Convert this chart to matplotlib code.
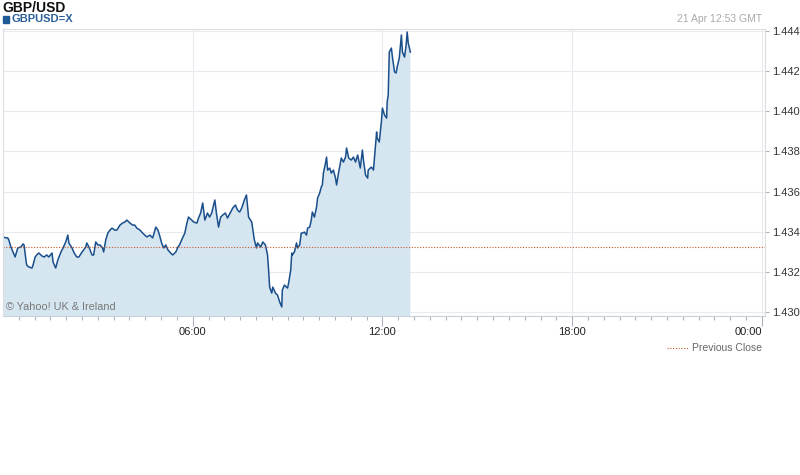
import numpy as np
import matplotlib.pyplot as plt
from matplotlib.lines import Line2D
from matplotlib.patches import Rectangle

plt.rcParams['font.family'] = ['Liberation Sans', 'DejaVu Sans']

# minutes since 00:00 GMT, 21 Apr
minutes = [0, 6, 9, 11, 15, 19, 23, 27, 28, 34, 38, 40, 44, 45, 49, 55, 57, 61, 64, 68,
           74, 78, 83, 87, 93, 95, 100, 104, 110, 114, 119, 123, 125, 131, 135, 140, 144, 150, 153, 157,
           159, 163, 169, 172, 176, 180, 184, 189, 191, 195, 199, 203, 207, 212, 216, 222, 227, 231, 235, 241,
           246, 250, 254, 260, 265, 273, 279, 284, 290, 294, 297, 301, 305, 309, 313, 318, 322, 328, 332, 335,
           339, 345, 349, 352, 358, 362, 368, 371, 375, 379, 383, 388, 392, 396, 402, 405, 409, 413, 417, 422,
           426, 432, 436, 441, 445, 449, 453, 458, 462, 466, 472, 477, 481, 483, 489, 493, 498, 502, 504, 506,
           510, 512, 517, 521, 525, 529, 530, 534, 540, 542, 546, 548, 549, 553, 557, 559, 563, 566, 568, 572,
           576, 578, 582, 585, 587, 591, 595, 597, 601, 604, 606, 608, 612, 614, 616, 620, 623, 627, 631, 633,
           637, 642, 646, 650, 652, 656, 661, 665, 669, 673, 678, 682, 684, 688, 692, 693, 699, 703, 705, 709,
           710, 714, 718, 720, 724, 728, 729, 731, 733, 737, 739, 743, 746, 748, 752, 756, 758, 762, 765, 767,
           769, 773]
price = [1.43374, 1.43369, 1.43369, 1.43359, 1.43324, 1.43299, 1.43274, 1.43309, 1.43319, 1.43324,
         1.43339, 1.43334, 1.43249, 1.43234, 1.43224, 1.43219, 1.43234, 1.43274, 1.43284, 1.43294,
         1.43279, 1.43274, 1.43284, 1.43274, 1.43294, 1.43249, 1.43219, 1.43259, 1.43299, 1.43319,
         1.43349, 1.43383, 1.43344, 1.43319, 1.43294, 1.43274, 1.43274, 1.43299, 1.43309, 1.43324,
         1.43344, 1.43324, 1.43284, 1.43284, 1.43349, 1.43334, 1.43334, 1.43319, 1.43299, 1.43359,
         1.43393, 1.43408, 1.43418, 1.43408, 1.43408, 1.43433, 1.43443, 1.43448, 1.43458, 1.43443,
         1.43433, 1.43433, 1.43418, 1.43408, 1.43393, 1.43374, 1.43383, 1.43369, 1.43423, 1.43408,
         1.43383, 1.43344, 1.43319, 1.43334, 1.43309, 1.43294, 1.43284, 1.43299, 1.43324, 1.43334,
         1.43359, 1.43393, 1.43443, 1.43473, 1.43458, 1.43448, 1.43443, 1.43468, 1.43493, 1.43543,
         1.43458, 1.43493, 1.43473, 1.43493, 1.43558, 1.43493, 1.43423, 1.43473, 1.43483, 1.43493,
         1.43468, 1.43498, 1.43518, 1.43533, 1.43508, 1.43498, 1.43518, 1.43558, 1.43583, 1.43473,
         1.43448, 1.43359, 1.43319, 1.43344, 1.43324, 1.43349, 1.43334, 1.43284, 1.43209, 1.43124,
         1.43094, 1.43124, 1.43094, 1.43084, 1.43050, 1.43025, 1.43109, 1.43134, 1.43119, 1.43144,
         1.43209, 1.43294, 1.43284, 1.43299, 1.43344, 1.43319, 1.43334, 1.43393, 1.43393, 1.43398,
         1.43383, 1.43418, 1.43423, 1.43458, 1.43498, 1.43473, 1.43523, 1.43568, 1.43593, 1.43623,
         1.43633, 1.43692, 1.43742, 1.43772, 1.43707, 1.43717, 1.43692, 1.43707, 1.43667, 1.43633,
         1.43697, 1.43767, 1.43747, 1.43772, 1.43817, 1.43767, 1.43757, 1.43772, 1.43747, 1.43782,
         1.43717, 1.43807, 1.43757, 1.43682, 1.43667, 1.43707, 1.43722, 1.43707, 1.43772, 1.43897,
         1.43867, 1.43847, 1.43947, 1.44016, 1.43981, 1.43966, 1.44046, 1.44081, 1.44295, 1.44315,
         1.44270, 1.44196, 1.44191, 1.44221, 1.44265, 1.44380, 1.44295, 1.44270, 1.44330, 1.44395,
         1.44340, 1.44295]
prev_close = 1.43325
y_ticks = [1.430, 1.432, 1.434, 1.436, 1.438, 1.440, 1.442, 1.444]
x_ticks = [360, 720, 1080, 1440]
x_labels = ['06:00', '12:00', '18:00', '00:00']

line_col = '#1a4f8b'
fill_col = '#d6e6f1'
grid_col = '#e8ebf0'

fig = plt.figure(figsize=(8, 4.75), dpi=100)
ax = fig.add_axes([3 / 800, (475 - 316) / 475, 762 / 800, 287 / 475])

ax.fill_between(minutes, price, 1.42, color=fill_col, lw=0)
ax.plot(minutes, price, color=line_col, lw=1.1)
ax.axhline(prev_close, color='#c8572a', lw=0.8, ls=(0, (1, 1.5)))

ax.set_xlim(0, 1446)
ax.set_ylim(1.42980, 1.44410)

ax.set_yticks(y_ticks)
ax.set_yticklabels(['%.3f' % v for v in y_ticks])
ax.yaxis.tick_right()
ax.tick_params(axis='y', length=3, width=0.8, color='#aab4c0', labelsize=8,
               labelcolor='#333333', pad=2)
ax.set_xticks(x_ticks)
ax.set_xticklabels(x_labels)
ax.set_xticks(np.arange(30, 1441, 30), minor=True)
ax.tick_params(axis='x', which='major', length=7, width=0.8, color='#aab4c0',
               labelsize=8, labelcolor='#222222', pad=1)
ax.tick_params(axis='x', which='minor', length=3, width=0.8, color='#aab4c0')
ax.get_xticklabels()[-1].set_ha('right')

ax.grid(True, which='major', color=grid_col, lw=0.8)
ax.set_axisbelow(True)
for s in ['top', 'left', 'right']:
    ax.spines[s].set_color('#dddddd')
    ax.spines[s].set_linewidth(0.8)
ax.spines['bottom'].set_color('#c8d0da')
ax.spines['bottom'].set_linewidth(0.8)

ax.text(6, 1.43000, '\u00a9 Yahoo! UK & Ireland', fontsize=7.8, color='#777777',
        va='bottom', ha='left')

fig.text(2 / 800, 1 - 8 / 475, 'GBP/USD', fontsize=10, fontweight='bold',
         color='#111111', va='center', ha='left')
fig.patches.append(Rectangle((3 / 800, 1 - 23 / 475), 6 / 800, 7 / 475,
                             transform=fig.transFigure, color='#1f5a96'))
fig.text(12 / 800, 1 - 19 / 475, 'GBPUSD=X', fontsize=8, fontweight='bold',
         color='#2b5f9a', va='center', ha='left')
fig.text(762 / 800, 1 - 19 / 475, '21 Apr 12:53 GMT', fontsize=7.5, color='#aaaaaa',
         va='center', ha='right')

fig.lines.append(Line2D([667 / 800, 688 / 800], [1 - 348 / 475, 1 - 348 / 475],
                        transform=fig.transFigure, color='#c8572a', lw=0.8,
                        ls=(0, (1, 1.5))))
fig.text(762 / 800, 1 - 348 / 475, 'Previous Close', fontsize=7.5, color='#666666',
         va='center', ha='right')

fig.savefig('out.png', dpi=100)
